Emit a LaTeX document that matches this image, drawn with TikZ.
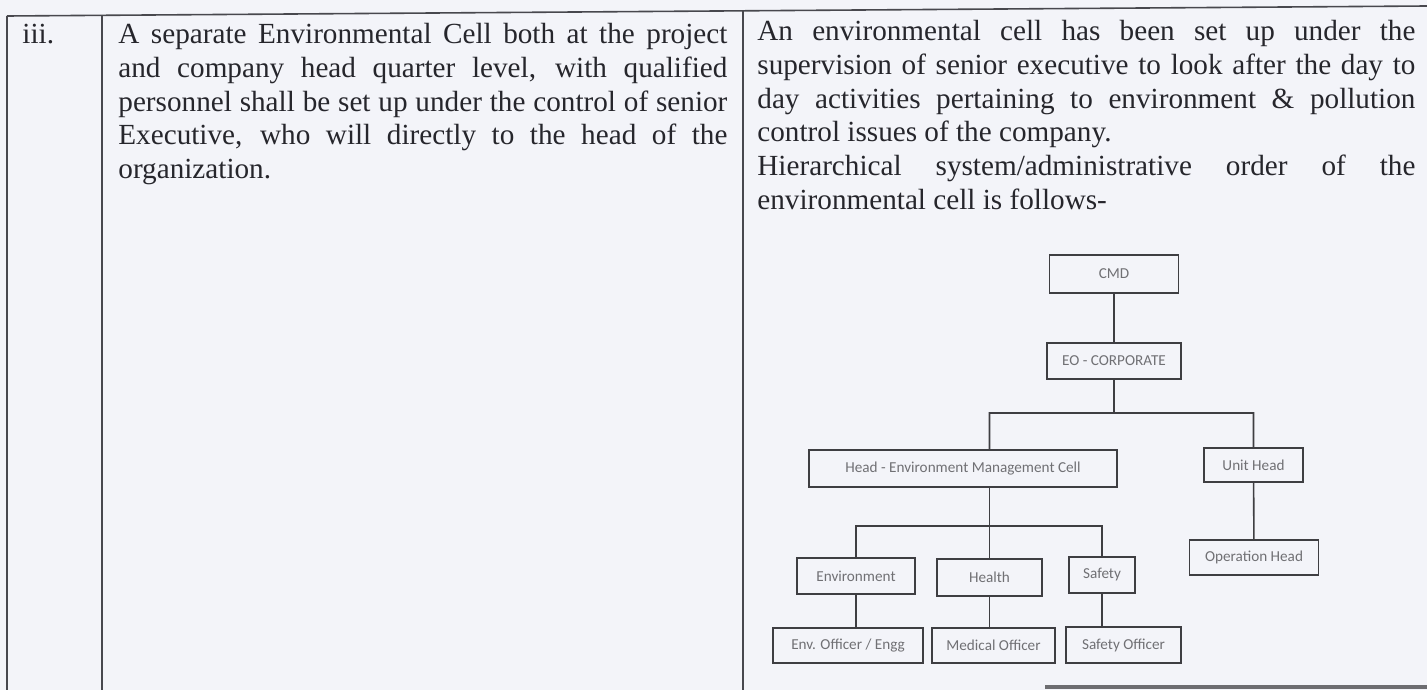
\documentclass[tikz,border=0pt]{standalone}
\usepackage{fontspec}
\setmainfont{Liberation Serif}
\newfontfamily\chartfont{Carlito}

\definecolor{paper}{RGB}{243,244,249}
\definecolor{ink}{RGB}{38,38,44}
\definecolor{rulegray}{RGB}{72,72,78}
\definecolor{boxline}{RGB}{62,62,66}
\definecolor{boxtext}{RGB}{112,112,116}

\tikzset{
  rowline/.style = {anchor = base west, inner sep = 0pt, text = ink,
                    font = \fontsize{14.6}{16.8}\selectfont},
  rulestroke/.style = {draw = rulegray, line width = 0.8pt},
  orgbox/.style = {shape = rectangle, draw = boxline, line width = 0.9pt,
                   inner sep = 0pt, text = boxtext,
                   font = \chartfont\fontsize{7.6}{8.6}\selectfont},
  orglink/.style = {draw = boxline, line width = 0.8pt},
}

\newcommand{\spreadline}[2]{\makebox[#1][s]{#2}}

\begin{document}
\begin{tikzpicture}[x = 0.5pt, y = -0.5pt]
        \fill[paper] (0, 0) rectangle (1427, 690);
        \useasboundingbox (0, 0) rectangle (1427, 690);

        % ------------------------------------------------------------------------
        % Table rules
        \draw[rulestroke] (7, 16) -- (1427, 6);
        \draw[rulestroke] (7, 16) -- (7, 690);
        \draw[rulestroke] (102, 15) -- (102, 690);
        \draw[rulestroke] (743, 11) -- (743, 690);
        \draw[draw = rulegray!80, line width = 1.6pt] (1045, 687) -- (1427, 687);

        % ------------------------------------------------------------------------
        % Left columns
        \node[rowline] at (22, 44) (num) {iii.};

        \node[rowline] at (118, 44)    (l1) {\spreadline{304.5pt}{A separate Environmental Cell both at the project}};
        \node[rowline] at (118, 77.6)  (l2) {\spreadline{304.5pt}{and company head quarter level, with qualified}};
        \node[rowline] at (118, 111.2) (l3) {\spreadline{304.5pt}{personnel shall be set up under the control of senior}};
        \node[rowline] at (118, 144.8) (l4) {\spreadline{304.5pt}{Executive, who will directly to the head of the}};
        \node[rowline] at (118, 178.4) (l5) {organization.};

        % ------------------------------------------------------------------------
        % Right column
        \node[rowline] at (757, 41)    (r1) {\spreadline{329pt}{An environmental cell has been set up under the}};
        \node[rowline] at (757, 74.6)  (r2) {\spreadline{329pt}{supervision of senior executive to look after the day to}};
        \node[rowline] at (757, 108.2) (r3) {\spreadline{329pt}{day activities pertaining to environment \& pollution}};
        \node[rowline] at (757, 141.8) (r4) {control issues of the company.};
        \node[rowline] at (757, 175.4) (r5) {\spreadline{329pt}{Hierarchical system/administrative order of the}};
        \node[rowline] at (757, 209)   (r6) {environmental cell is follows-};

        % ------------------------------------------------------------------------
        % Org chart
        \node[orgbox, minimum width = 64.5pt, minimum height = 19pt]   at (1114, 274)    (cmd)     {CMD};
        \node[orgbox, minimum width = 67pt,   minimum height = 18pt]   at (1114, 361)    (eo)      {EO - CORPORATE};
        \coordinate (bus) at (1114, 413);

        \node[orgbox, minimum width = 154pt,  minimum height = 18.5pt] at (963, 468.5)   (head)    {Head - Environment Management Cell};
        \node[orgbox, minimum width = 49.5pt, minimum height = 17pt]   at (1253.5, 465)  (unit)    {Unit Head};
        \node[orgbox, minimum width = 64.5pt, minimum height = 17.5pt] at (1254, 557.5)  (oper)    {Operation Head};
        \coordinate (fork) at (989.5, 526);

        \node[orgbox, minimum width = 59pt,   minimum height = 18pt]   at (856, 576)     (env)     {Environment};
        \node[orgbox, minimum width = 52.5pt, minimum height = 18.5pt] at (989.5, 577.5) (health)  {Health};
        \node[orgbox, minimum width = 33pt,   minimum height = 18pt]   at (1102, 575)    (safety)  {Safety};

        \node[orgbox, minimum width = 75pt,   minimum height = 17.5pt] at (848, 645.5)   (envoff)  {Env. Officer / Engg};
        \node[orgbox, minimum width = 61.5pt, minimum height = 17.5pt] at (993.5, 645.5) (medoff)  {Medical Officer};
        \node[orgbox, minimum width = 57.5pt, minimum height = 18pt]   at (1123.5, 645)  (safeoff) {Safety Officer};

        \draw[orglink]
          (cmd) -- (eo)
          (eo) -- (bus)
          (head.north -| health) |- (bus) -| (unit.north)
          (unit) -- (oper)
        ;
        \draw[orglink]
          (head.south -| health) -- (health)
          (env.north) |- (fork) -| (safety.north)
          (env) -- (env |- envoff.north)
          (health) -- (health |- medoff.north)
          (safety) -- (safety |- safeoff.north)
        ;
      \end{tikzpicture}
\end{document}
